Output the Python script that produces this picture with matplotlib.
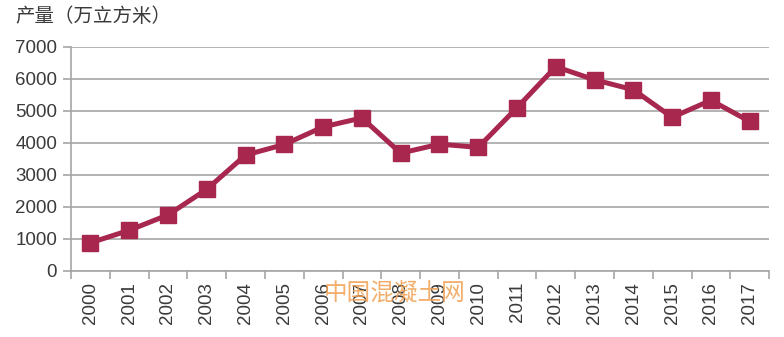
import matplotlib.pyplot as plt
import numpy as np

plt.rcParams["font.family"] = ["Liberation Sans", "Noto Sans CJK SC", "DejaVu Sans"]

years = [str(y) for y in range(2000, 2018)]
output = [880, 1270, 1750, 2550, 3620, 3950, 4500, 4780, 3680,
          3960, 3860, 5100, 6380, 5970, 5660, 4800, 5330, 4670]
y_ticks = [0, 1000, 2000, 3000, 4000, 5000, 6000, 7000]

line_color = "#A8274F"
grid_color = "#A6A6A6"
text_color = "#3A3A3A"

fig = plt.figure(figsize=(7.84, 3.37), dpi=100)
ax = fig.add_axes([0.0906, 0.196, 0.8904, 0.665])

x = np.arange(len(years)) + 0.5
ax.plot(x, output, color=line_color, lw=3.6, marker="s", markersize=11.5,
        markerfacecolor=line_color, markeredgecolor=line_color, zorder=3)

ax.set_xlim(0, len(years))
ax.set_ylim(0, 7000)
ax.set_yticks(y_ticks)
ax.set_yticklabels([str(v) for v in y_ticks], fontsize=13.5, color=text_color)
ax.yaxis.grid(True, color=grid_color, lw=1.2)
ax.set_axisbelow(True)

# ticks on category boundaries, labels in the middle
ax.set_xticks(np.arange(len(years) + 1))
ax.set_xticklabels([])
ax.set_xticks(x, minor=True)
ax.set_xticklabels(years, minor=True, rotation=90, fontsize=13.5, color=text_color)
ax.tick_params(axis="x", which="minor", length=0, pad=8)
ax.tick_params(axis="x", which="major", length=6, color=grid_color, width=1.2)
ax.tick_params(axis="y", length=6, color=grid_color, width=1.2, pad=4)

for side in ["top", "right"]:
    ax.spines[side].set_visible(False)
for side in ["left", "bottom"]:
    ax.spines[side].set_color(grid_color)
    ax.spines[side].set_linewidth(1.2)

fig.text(0.02, 0.952, "产量（万立方米）", fontsize=14, color=text_color,
         family=["Noto Sans CJK SC", "DejaVu Sans"], va="center")

# site watermark
fig.text(0.503, 0.128, "中国混凝土网", fontsize=17, color="#F0A050", alpha=0.85,
         family=["Noto Sans CJK SC", "DejaVu Sans"], ha="center", va="center")

fig.savefig("out.png", dpi=100)
